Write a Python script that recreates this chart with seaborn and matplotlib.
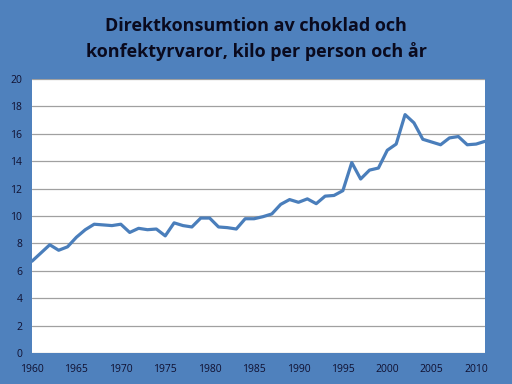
import matplotlib
matplotlib.use("Agg")
import matplotlib.pyplot as plt
import seaborn as sns
import pandas as pd

years = list(range(1960, 2012))
kilo = [6.7, 7.3, 7.9, 7.5, 7.75, 8.45, 9.0, 9.4, 9.35, 9.3,
        9.4, 8.8, 9.1, 9.0, 9.05, 8.55, 9.5, 9.3, 9.2, 9.85,
        9.85, 9.2, 9.15, 9.05, 9.8, 9.8, 9.95, 10.15, 10.85, 11.2,
        11.0, 11.25, 10.9, 11.45, 11.5, 11.85, 13.9, 12.7, 13.35, 13.5,
        14.8, 15.25, 17.4, 16.8, 15.6, 15.4, 15.2, 15.7, 15.8, 15.2,
        15.25, 15.45]
xticks = [1960, 1965, 1970, 1975, 1980, 1985, 1990, 1995, 2000, 2005, 2010]
yticks = [0, 2, 4, 6, 8, 10, 12, 14, 16, 18, 20]
title = "Direktkonsumtion av choklad och\nkonfektyrvaror, kilo per person och år"

df = pd.DataFrame({"year": years, "kilo": kilo})

sns.set_style("white")
plt.rcParams['font.family'] = ['Open Sans', 'DejaVu Sans']

bg = "#4F81BD"
fig = plt.figure(figsize=(5.12, 3.84), dpi=100, facecolor=bg)
ax = fig.add_axes([32/512, 1-353/384, (485-32)/512, (353-79)/384])
ax.set_facecolor("white")

sns.lineplot(data=df, x="year", y="kilo", ax=ax, color="#4A7EBB", linewidth=2.3)

ax.set_xlim(1960, 2011)
ax.set_ylim(0, 20)
ax.set_xticks(xticks)
ax.set_yticks(yticks)
ax.set_xticklabels([str(t) for t in xticks])
ax.grid(axis="y", color="#A0A0A0", linewidth=0.9)
ax.grid(axis="x", visible=False)
for s in ax.spines.values():
    s.set_visible(False)
ax.tick_params(axis="both", length=0, labelsize=7.5, colors="#101030")
ax.tick_params(axis="y", pad=7)
ax.tick_params(axis="x", pad=8)
ax.set_xlabel("")
ax.set_ylabel("")

fig.text(0.5, 1-39/384, title, ha="center", va="center", fontsize=13,
         fontweight="bold", color="#0A0A1E", linespacing=1.5)

fig.savefig("out.png", dpi=100, facecolor=bg)
